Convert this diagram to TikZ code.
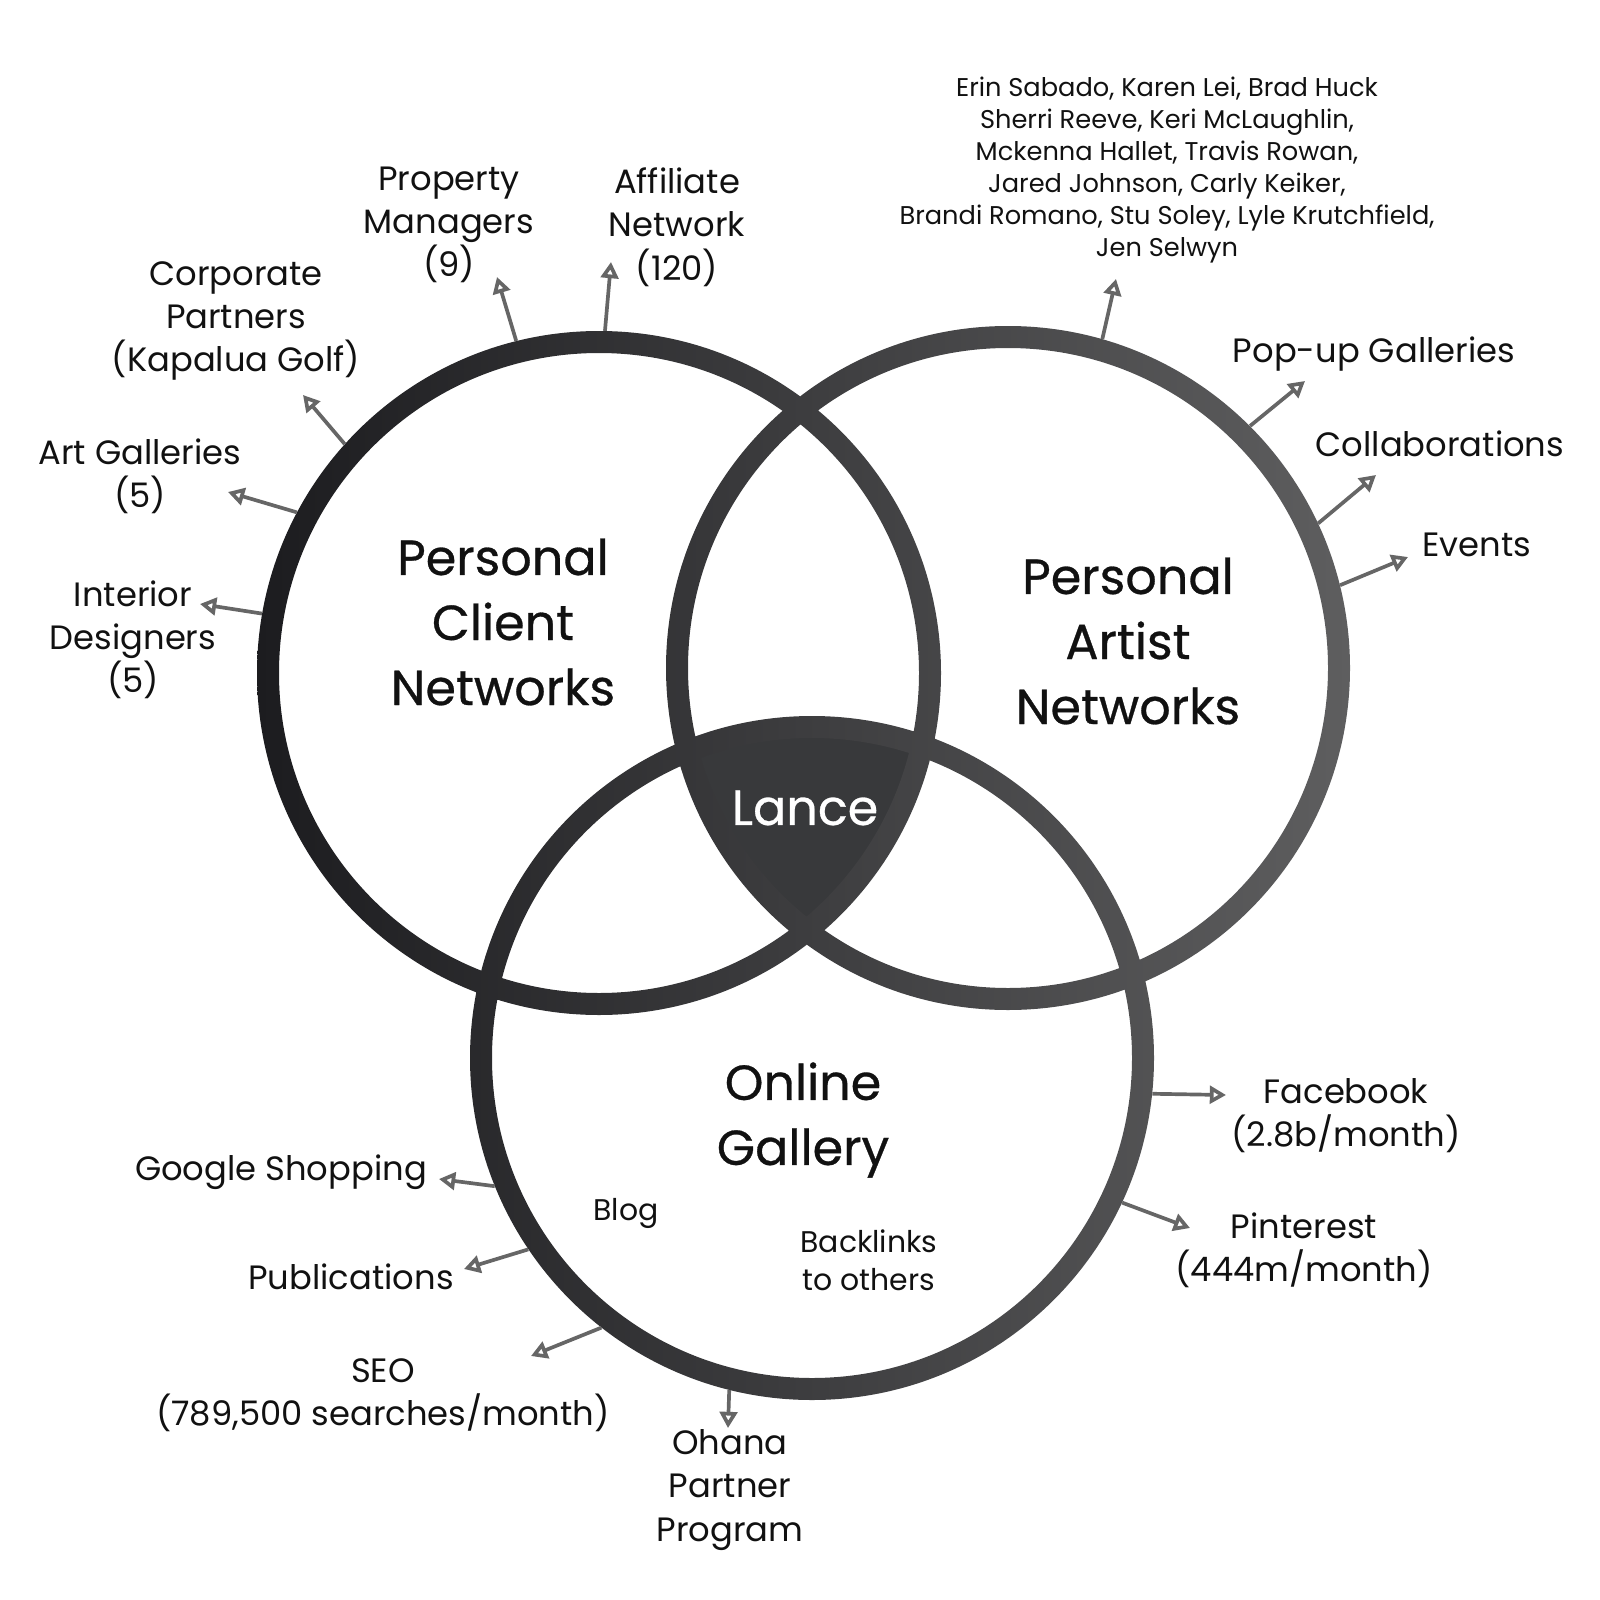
\documentclass[tikz,border=0pt]{standalone}
\usepackage{fontspec}
\setmainfont{Poppins}
\usetikzlibrary{arrows.meta,positioning,calc}
\definecolor{ringL}{HTML}{1C1C1F}
\definecolor{ringR}{HTML}{5E5E5F}
\definecolor{core}{HTML}{38393B}
\definecolor{ink}{HTML}{111111}
\tikzstyle{ring}=[circle,minimum size=6.62cm,inner sep=0pt,outer sep=0.11cm]
\tikzstyle{bigtext}=[align=center,inner sep=0pt,text=ink,font=\addfontfeature{FakeBold=0.6}\fontsize{14}{18.5}\selectfont]
\tikzstyle{tagtext}=[align=center,inner sep=0pt,text=ink,font=\fontsize{9.6}{12.3}\selectfont]
\tikzstyle{notetext}=[align=center,inner sep=0pt,text=ink,font=\fontsize{8.5}{10.8}\selectfont]
\tikzstyle{nametext}=[align=center,inner sep=0pt,text=ink,font=\fontsize{7.3}{9.1}\selectfont]
\tikzstyle{ray}=[draw=black!60,line width=1.05pt,-{Triangle[open,length=4.6pt,width=5pt]}]
\begin{document}
\begin{tikzpicture}[x=0.01cm,y=-0.01cm]
\useasboundingbox (0,0) rectangle (1600,1600);
\coordinate (cl) at (599,673);
\coordinate (cr) at (1008,668);
\coordinate (cb) at (812,1058);
\begin{scope}
\clip (cl) circle[radius=331];
\clip (cr) circle[radius=331];
\fill[core] (cb) circle[radius=331];
\end{scope}
\shade[left color=ringL, right color=ringR]
  (cl) ++(342,0) arc[start angle=0,end angle=360,radius=342]
  (cl) ++(320,0) arc[start angle=0,end angle=-360,radius=320]
  (cr) ++(342,0) arc[start angle=0,end angle=360,radius=342]
  (cr) ++(320,0) arc[start angle=0,end angle=-360,radius=320]
  (cb) ++(342,0) arc[start angle=0,end angle=360,radius=342]
  (cb) ++(320,0) arc[start angle=0,end angle=-360,radius=320];
\node [ring] (pcn) at (cl) {};
\node [ring] (pan) at (cr) {};
\node [ring] (og) at (cb) {};

\node [bigtext] (pcnlbl) at (503,622) {Personal\\Client\\Networks};
\node [bigtext] (panlbl) at (1128,641) {Personal\\Artist\\Networks};
\node [bigtext] (oglbl) at (803,1120) {Online\\Gallery};
\node [bigtext, text=white] (lance) at (805,808) {Lance};
\node [notetext] (blog) at (626,1213) {Blog};
\node [notetext] (back) at (869,1260) {Backlinks\\to others};

\node [tagtext] (id) at (133,640) {Interior\\Designers\\(5)};
\node [tagtext] (ag) at (140,476) {Art Galleries\\(5)};
\node [tagtext] (cp) at (236,321) {Corporate\\Partners\\(Kapalua Golf)};
\node [tagtext] (pm) at (449,225) {Property\\Managers\\(9)};
\node [tagtext] (af) at (677,227) {Affiliate\\Network\\(120)};
\node [nametext] (nm) at (1167,170) {Erin Sabado, Karen Lei, Brad Huck\\Sherri Reeve, Keri McLaughlin,\\Mckenna Hallet, Travis Rowan,\\Jared Johnson, Carly Keiker,\\Brandi Romano, Stu Soley, Lyle Krutchfield,\\Jen Selwyn};
\node [tagtext] (pg) at (1374,354) {Pop-up Galleries};
\node [tagtext] (co) at (1440,444) {Collaborations};
\node [tagtext] (ev) at (1477,545) {Events};
\node [tagtext] (fb) at (1346,1116) {Facebook\\(2.8b/month)};
\node [tagtext] (pi) at (1304,1250) {Pinterest\\(444m/month)};
\node [tagtext] (gs) at (281,1172) {Google Shopping};
\node [tagtext] (pu) at (351,1277) {Publications};
\node [tagtext] (se) at (383,1395) {SEO\\(789,500 searches/month)};
\node [tagtext] (oh) at (730,1490) {Ohana\\Partner\\Program};

\coordinate (id-end) at (200,604);
\coordinate (ag-end) at (228,492);
\coordinate (cp-end) at (303,395);
\coordinate (pm-end) at (497,277);
\coordinate (af-end) at (611,262);
\coordinate (nm-end) at (1116,279);
\coordinate (pg-end) at (1305,381);
\coordinate (co-end) at (1376,475);
\coordinate (ev-end) at (1408,557);
\coordinate (fb-end) at (1226,1095);
\coordinate (pi-end) at (1190,1228);
\coordinate (gs-end) at (439,1179);
\coordinate (pu-end) at (464,1269);
\coordinate (se-end) at (531,1356);
\coordinate (oh-end) at (728,1428);

\draw [ray] (pcn.170) -- (id-end);
\draw [ray] (pcn.152) -- (ag-end);
\draw [ray] (pcn.138) -- (cp-end);
\draw [ray] (pcn.104) -- (pm-end);
\draw [ray] (pcn.89) -- (af-end);
\draw [ray] (pan.74) -- (nm-end);
\draw [ray] (pan.45) -- (pg-end);
\draw [ray] (pan.25) -- (co-end);
\draw [ray] (pan.14) -- (ev-end);
\draw [ray] (og.-6) -- (fb-end);
\draw [ray] (og.-25) -- (pi-end);
\draw [ray] (og.202) -- (gs-end);
\draw [ray] (og.214) -- (pu-end);
\draw [ray] (og.232) -- (se-end);
\draw [ray] (og.256) -- (oh-end);
\end{tikzpicture}
\end{document}
